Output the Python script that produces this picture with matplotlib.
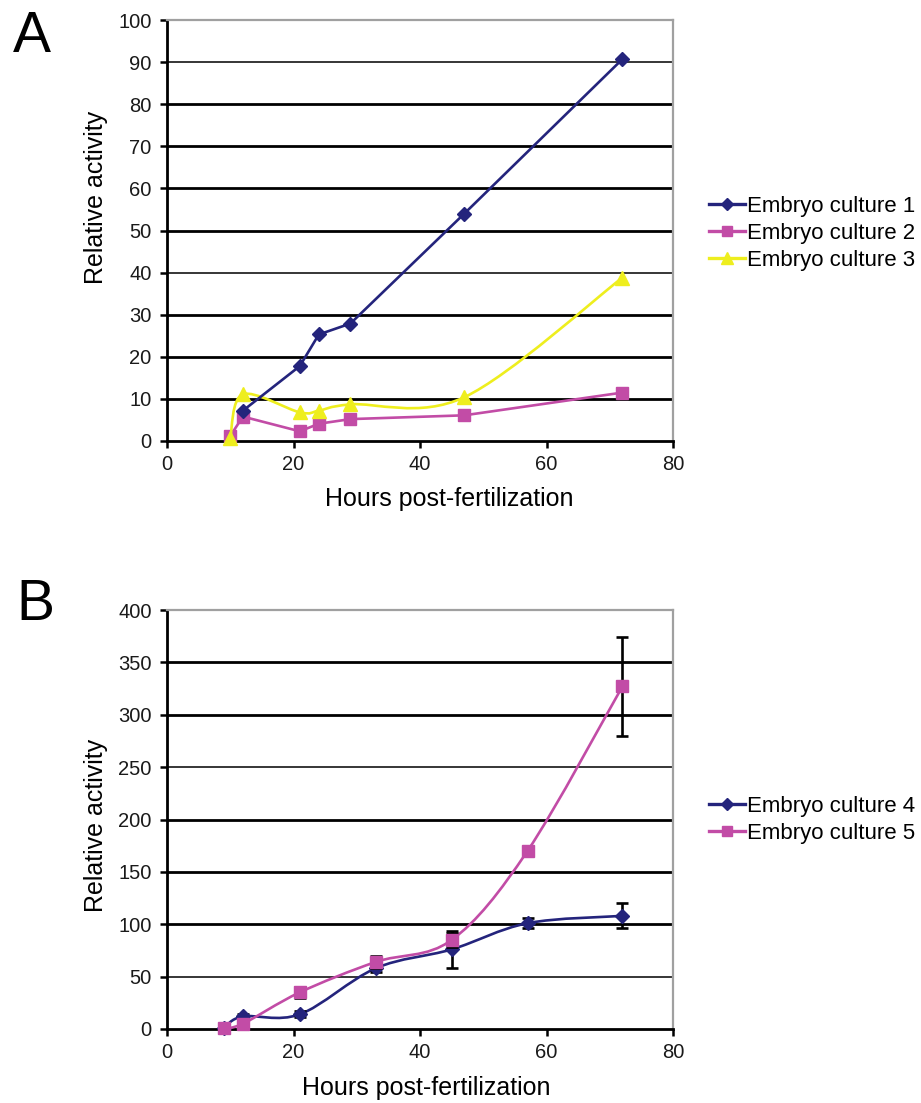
import numpy as np
import matplotlib
matplotlib.use("Agg")
import matplotlib.pyplot as plt
from matplotlib.path import Path
from matplotlib.patches import PathPatch
from matplotlib.lines import Line2D

plt.rcParams['font.family'] = ['Liberation Sans', 'DejaVu Sans']

# ---------------- data ----------------
# Panel A
hours_a1 = [12, 21, 24, 29, 47, 72]
culture1 = [7.2, 17.8, 25.3, 27.9, 54.0, 90.7]
hours_a2 = [10, 12, 21, 24, 29, 47, 72]
culture2 = [1.2, 5.8, 2.3, 4.1, 5.2, 6.1, 11.5]
hours_a3 = [10, 12, 21, 24, 29, 47, 72]
culture3 = [0.8, 11.1, 6.8, 7.2, 8.7, 10.4, 38.8]

# Panel B
hours_b = [9, 12, 21, 33, 45, 57, 72]
culture4 = [1, 12, 14, 58, 76, 101, 108]
culture4_err = [0, 2, 3, 4, 18, 5, 12]
culture5 = [1, 5, 35, 64, 85, 170, 327]
culture5_err = [0, 2, 5, 6, 7, 3, 47]

labels_a = ["Embryo culture 1", "Embryo culture 2", "Embryo culture 3"]
labels_b = ["Embryo culture 4", "Embryo culture 5"]

NAVY = '#24247c'
MAGENTA = '#c24ca6'
YELLOW = '#eeee1e'

W, H = 921, 1103
fig = plt.figure(figsize=(W / 100, H / 100), dpi=100)


def px_rect(l, t, r, b):
    return [l / W, 1 - b / H, (r - l) / W, (b - t) / H]


def smooth_path(xs, ys):
    xs = np.asarray(xs, float)
    ys = np.asarray(ys, float)
    pts = np.column_stack([xs, ys])
    n = len(pts)
    verts = [pts[0]]
    codes = [Path.MOVETO]
    for i in range(n - 1):
        p0 = pts[i - 1] if i > 0 else pts[i]
        p1 = pts[i]
        p2 = pts[i + 1]
        p3 = pts[i + 2] if i + 2 < n else pts[i + 1]
        c1 = p1 + (p2 - p0) / 6.0
        c2 = p2 - (p3 - p1) / 6.0
        verts += [c1, c2, p2]
        codes += [Path.CURVE4] * 3
    return Path(verts, codes)


def style_axes(ax, ymax, ystep, thin):
    ax.set_xlim(0, 80)
    ax.set_ylim(0, ymax)
    ax.set_xticks(np.arange(0, 81, 20))
    ax.set_yticks(np.arange(0, ymax + 1, ystep))
    for v in np.arange(ystep, ymax, ystep):
        lw = 1.1 if v in thin else 2.0
        ax.axhline(v, color='black', lw=lw, zorder=1)
    for s in ['left', 'bottom']:
        ax.spines[s].set_color('black')
        ax.spines[s].set_linewidth(2.0)
    for s in ['top', 'right']:
        ax.spines[s].set_color('#a0a0a0')
        ax.spines[s].set_linewidth(1.6)
    ax.tick_params(axis='both', direction='out', length=5, width=1.8,
                   labelsize=14.5, colors='black', labelcolor='#1a1a1a', pad=5)
    ax.tick_params(axis='y', pad=6)
    ax.set_facecolor('white')


# ---------------- Panel A ----------------
axA = fig.add_axes(px_rect(167, 20, 673, 441))
style_axes(axA, 100, 10, thin=[40, 90])

axA.plot(hours_a1, culture1, color=NAVY, lw=1.9, marker='D', ms=7,
         zorder=4, clip_on=False)
axA.plot(hours_a2, culture2, color=MAGENTA, lw=1.9, marker='s', ms=8,
         zorder=3, clip_on=False)
axA.add_patch(PathPatch(smooth_path(hours_a3, culture3), fill=False,
                        edgecolor=YELLOW, lw=1.9, zorder=3.5))
axA.plot(hours_a3, culture3, ls='none', color=YELLOW, marker='^', ms=9.5,
         zorder=3.5, clip_on=False)

fig.text(13 / W, 1 - 52 / H, "A", fontsize=41, ha='left', va='baseline')
fig.text(96 / W, 1 - 197 / H, "Relative activity", fontsize=18, rotation=90,
         ha='center', va='center')
fig.text(449 / W, 1 - 506 / H, "Hours post-fertilization", fontsize=18,
         ha='center', va='baseline')

handles_a = [
    Line2D([], [], color=NAVY, lw=2.4, marker='D', ms=6),
    Line2D([], [], color=MAGENTA, lw=2.4, marker='s', ms=7),
    Line2D([], [], color=YELLOW, lw=2.4, marker='^', ms=8),
]
fig.legend(handles_a, labels_a, loc='upper left',
           bbox_to_anchor=(709 / W, 1 - 196 / H), frameon=False, fontsize=16,
           handlelength=1.6, handletextpad=0.1, labelspacing=0.26,
           borderpad=0, borderaxespad=0)

# ---------------- Panel B ----------------
axB = fig.add_axes(px_rect(167, 610, 673, 1029))
style_axes(axB, 400, 50, thin=[50, 250])

axB.add_patch(PathPatch(smooth_path(hours_b, culture4), fill=False,
                        edgecolor=NAVY, lw=1.9, zorder=3))
axB.errorbar(hours_b, culture4, yerr=culture4_err, ls='none', color=NAVY,
             marker='D', ms=7, ecolor='black', elinewidth=1.9, capsize=4,
             capthick=1.9, zorder=3, clip_on=False)
axB.add_patch(PathPatch(smooth_path(hours_b, culture5), fill=False,
                        edgecolor=MAGENTA, lw=1.9, zorder=4))
axB.errorbar(hours_b, culture5, yerr=culture5_err, ls='none', color=MAGENTA,
             marker='s', ms=8, ecolor='black', elinewidth=1.9, capsize=4,
             capthick=1.9, zorder=4, clip_on=False)

fig.text(16 / W, 1 - 620 / H, "B", fontsize=41, ha='left', va='baseline')
fig.text(96 / W, 1 - 825 / H, "Relative activity", fontsize=18, rotation=90,
         ha='center', va='center')
fig.text(426 / W, 1 - 1095 / H, "Hours post-fertilization", fontsize=18,
         ha='center', va='baseline')

handles_b = [
    Line2D([], [], color=NAVY, lw=2.4, marker='D', ms=6),
    Line2D([], [], color=MAGENTA, lw=2.4, marker='s', ms=7),
]
fig.legend(handles_b, labels_b, loc='upper left',
           bbox_to_anchor=(709 / W, 1 - 796 / H), frameon=False, fontsize=16,
           handlelength=1.6, handletextpad=0.1, labelspacing=0.26,
           borderpad=0, borderaxespad=0)

fig.savefig("out.png", dpi=100, facecolor='white')
